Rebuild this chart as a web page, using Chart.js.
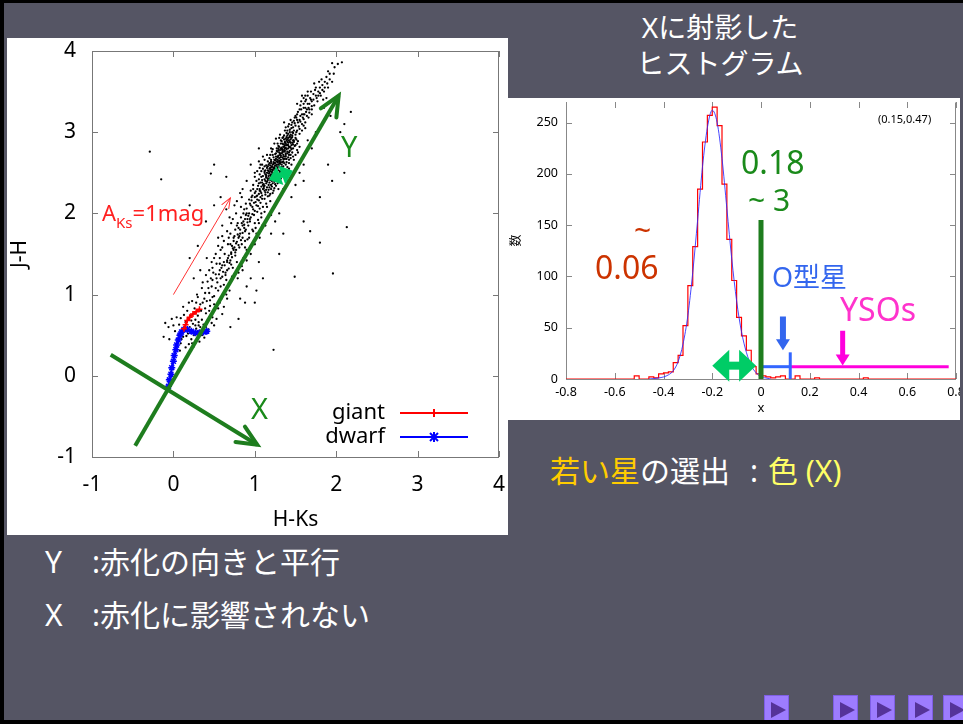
<!DOCTYPE html>
<html>
<head>
<meta charset="utf-8">
<script src="https://cdn.jsdelivr.net/npm/chart.js@4.4.0/dist/chart.umd.min.js"></script>
<style>
html, body { margin: 0; padding: 0; }
body {
    width: 963px; height: 724px; overflow: hidden; position: relative;
    background: #555564;
    font-family: "Noto Sans", "Noto Sans CJK JP", sans-serif;
}
.bar { position: absolute; background: #000; z-index: 5; }
.panel { position: absolute; background: #fff; overflow: hidden; }
.panel canvas { position: absolute; left: 0; top: 0; }
.t { position: absolute; white-space: nowrap; line-height: 1; }
.nav { position: absolute; top: 695px; width: 25px; height: 29px; background: #9d7cff; border: 1px solid #7f5fe6; box-sizing: border-box; }
.nav:after { content: ""; position: absolute; left: 6px; top: 6px; border-left: 15px solid #553399; border-top: 8px solid transparent; border-bottom: 8px solid transparent; }
</style>
</head>
<body>

<div class="bar" style="left:0;top:0;width:963px;height:3px"></div>
<div class="bar" style="left:0;top:0;width:4px;height:724px"></div>
<div class="bar" style="left:0;top:720px;width:963px;height:4px"></div>

<div class="panel" style="left:7px;top:38px;width:501px;height:497px">
    <canvas id="ccdChart" width="510" height="497"></canvas>
</div>
<div class="panel" style="left:508px;top:98px;width:452px;height:322px">
    <canvas id="histChart" width="470" height="322"></canvas>
</div>

<!-- slide text -->
<div class="t" style="left:720px;top:13px;font-size:28px;color:#fff;transform:translateX(-50%)">Xに射影した</div>
<div class="t" style="left:720px;top:49px;font-size:28px;color:#fff;transform:translateX(-50%)">ヒストグラム</div>

<div class="t" style="left:45px;top:547px;font-size:30px;color:#fff">Y</div>
<div class="t" style="left:92px;top:547px;font-size:30px;color:#fff">:赤化の向きと平行</div>
<div class="t" style="left:45px;top:600px;font-size:30px;color:#fff">X</div>
<div class="t" style="left:92px;top:600px;font-size:30px;color:#fff">:赤化に影響されない</div>

<div class="t" style="left:550px;top:456px;font-size:30px;color:#fff"><span style="color:#ffcc00">若い星</span>の選出</div>
<div class="t" style="left:750px;top:456px;font-size:30px;color:#fff">:</div>
<div class="t" style="left:768px;top:456px;font-size:30px;color:#ffff66">色 (X)</div>

<!-- colour-colour diagram labels -->
<div class="t" style="left:341px;top:131px;font-size:29px;color:#1a8a1a">Y</div>
<div class="t" style="left:251px;top:393px;font-size:29px;color:#1a8a1a">X</div>
<div class="t" style="left:102px;top:201px;font-size:22px;color:#ff2020">A<span style="font-size:15px;position:relative;top:7px">Ks</span>=1mag</div>

<!-- histogram labels -->
<div class="t" style="left:741px;top:146px;font-size:32px;color:#1a8a1a">0.18</div>
<div class="t" style="left:748px;top:185px;font-size:30px;color:#1a8a1a">~ 3</div>
<div class="t" style="left:634px;top:215px;font-size:30px;color:#cc3300">~</div>
<div class="t" style="left:595px;top:251px;font-size:32px;color:#cc3300">0.06</div>
<div class="t" style="left:772px;top:263px;font-size:27px;color:#3366ee">O型星</div>
<div class="t" style="left:840px;top:293px;font-size:32px;color:#ff33cc">YSOs</div>
<div class="t" style="left:878px;top:113px;font-size:11px;color:#000">(0.15,0.47)</div>

<div class="nav" style="left:764px"></div>
<div class="nav" style="left:833px"></div>
<div class="nav" style="left:870px"></div>
<div class="nav" style="left:908px"></div>
<div class="nav" style="left:943px"></div>

<script>
// ---- J-H vs H-Ks field stars [H-Ks, J-H] ----
const fieldStars = [
    [0.05,0.42],[0.12,0.48],[0.18,0.52],[0.22,0.45],[0.28,0.58],[0.31,0.62],[0.15,0.66],[0.09,0.71],[0.21,0.74],[0.35,0.69],
    [0.4,0.77],[0.26,0.83],[0.33,0.88],[0.45,0.86],[0.19,0.39],[0.02,0.55],[-0.06,0.6],[-0.12,0.48],[0.08,0.31],[0.25,0.36],
    [0.38,0.47],[0.5,0.62],[0.43,0.57],[0.14,0.58],[0.29,0.51],[0.36,0.56],[0.24,0.64],[0.17,0.8],[0.3,0.74],[0.48,0.72],
    [0.55,0.83],[0.07,0.63],[0.11,0.52],[0.2,0.6],[0.27,0.69],[0.34,0.8],[0.41,0.92],[-0.02,0.7],[0.6,0.76],[0.23,0.92],
    [0.1,0.45],[0.16,0.49],[0.2,0.55],[0.25,0.5],[0.3,0.55],[0.33,0.6],[0.27,0.62],[0.22,0.68],[0.18,0.71],[0.13,0.75],
    [0.26,0.77],[0.31,0.66],[0.37,0.63],[0.42,0.68],[0.46,0.75],[0.39,0.83],[0.44,0.8],[0.5,0.88],[0.36,0.9],[0.28,0.9],
    [0.06,0.5],[0.0,0.62],[0.04,0.72],[0.12,0.85],[0.19,0.9],[0.35,0.5],[0.4,0.6],[0.47,0.65],[0.53,0.7],[0.57,0.9],
    [0.15,0.35],[0.23,0.4],[0.32,0.42],[0.09,0.4],[-0.05,0.45],[-0.1,0.65],[0.62,0.85],[0.66,0.95],[0.3,0.97],[0.48,0.97],
    [0.38,0.95],[0.44,1.02],[0.5,0.98],[0.47,1.1],[0.55,1.05],[0.42,1.16],[0.58,1.2],[0.52,1.25],[0.62,1.12],[0.66,1.3],
    [0.6,1.36],[0.7,1.42],[0.57,1.45],[0.73,1.33],[0.35,1.08],[0.29,1.0],[0.48,1.33],[0.65,1.18],[0.78,1.4],[0.68,1.48],
    [0.54,1.15],[0.61,1.28],[0.45,0.93],[0.53,1.38],[0.72,1.22],[0.8,1.27],[0.84,1.35],[0.4,1.24],[0.63,1.5],[0.76,1.48],
    [0.69,1.05],[0.9,1.1],[0.95,1.2],[0.82,0.95],[0.25,1.2],[0.59,0.95],[0.5,1.45],[0.66,1.4],[0.74,1.55],[0.57,1.3],
    [0.46,1.2],[0.64,1.24],[0.71,1.37],[0.79,1.2],[0.86,1.45],[0.33,1.3],[0.2,1.45],[0.88,0.9],[1.02,1.05],[0.62,1.02],
    [0.65,1.0],[0.58,1.1],[0.52,1.08],[0.48,1.18],[0.53,1.2],[0.57,1.38],[0.49,1.27],[0.43,1.08],[0.39,1.02],[0.36,1.15],
    [0.72,1.6],[0.78,1.65],[0.81,1.58],[0.75,1.72],[0.85,1.7],[0.88,1.78],[0.8,1.82],[0.92,1.85],[0.86,1.9],[0.95,1.95],
    [0.9,2.0],[0.98,2.05],[1.02,2.1],[0.94,2.12],[1.05,2.16],[1.0,2.2],[0.83,1.95],[0.7,1.75],[0.67,1.62],[0.77,1.55],
    [0.91,1.68],[0.97,1.8],[1.04,1.92],[1.08,2.0],[0.87,2.05],[0.79,1.88],[0.73,1.93],[0.84,1.62],[0.93,1.75],[1.0,1.88],
    [1.1,2.08],[1.12,2.18],[0.96,2.16],[0.89,1.98],[0.82,1.75],[0.76,1.8],[0.68,1.7],[0.99,1.98],[1.06,2.06],[1.03,2.02],
    [0.94,1.9],[0.87,1.82],[0.8,1.7],[0.85,1.85],[0.91,1.93],[0.97,2.08],[1.01,2.14],[0.93,2.0],[0.88,1.66],[0.74,1.66],
    [1.07,2.2],[1.14,2.12],[0.95,1.6],[1.16,1.95],[0.6,1.85],[0.55,1.7],[1.25,1.9],[1.3,2.0],[0.65,2.05],[0.5,2.1],
    [1.2,1.75],[0.78,2.15],[0.84,2.2],[1.18,2.22],[0.9,1.55],[1.02,1.75],[0.71,1.5],[0.6,1.58],[1.09,1.85],[0.58,2.2],
    [0.6,1.22],[0.64,1.27],[0.68,1.32],[0.62,1.4],[0.67,1.45],[0.71,1.52],[0.75,1.58],[0.7,1.62],[0.74,1.7],[0.79,1.74],
    [0.82,1.8],[0.78,1.85],[0.84,1.88],[0.88,1.93],[0.92,1.97],[0.86,2.0],[0.9,2.06],[0.95,2.1],[0.99,2.13],[0.93,2.17],
    [0.56,1.25],[0.59,1.33],[0.63,1.36],[0.66,1.42],[0.69,1.39],[0.72,1.46],[0.76,1.52],[0.73,1.57],[0.77,1.63],[0.8,1.61],
    [0.83,1.67],[0.81,1.72],[0.85,1.76],[0.89,1.8],[0.87,1.86],[0.91,1.89],[0.94,1.93],[0.97,1.99],[1.0,2.03],[1.04,2.09],
    [1.07,2.13],[1.03,2.17],[0.96,2.2],[1.09,2.18],[0.89,2.12],[0.83,2.08],[0.77,2.0],[0.71,1.88],[0.66,1.78],[0.62,1.66],
    [0.58,1.55],[0.52,1.5],[0.47,1.4],[0.44,1.3],[0.41,1.45],[0.55,1.6],[0.6,1.72],[0.69,1.95],[0.75,2.1],[0.82,2.25],
    [0.93,1.7],[0.98,1.78],[1.01,1.82],[1.05,1.88],[1.08,1.95],[1.12,2.02],[1.15,2.08],[1.19,2.15],[0.95,1.5],[0.9,1.42],
    [0.85,1.3],[0.88,1.58],[1.0,1.62],[1.06,1.7],[1.13,1.85],[1.2,1.98],[1.24,2.08],[1.28,2.15],[1.35,2.3],[1.4,2.4],
    [1.03,2.22],[1.08,2.25],[1.12,2.28],[1.06,2.3],[1.15,2.32],[1.1,2.35],[1.18,2.38],[1.13,2.4],[1.04,2.34],[1.2,2.3],
    [1.22,2.42],[1.09,2.41],[1.16,2.26],[1.01,2.27],[1.25,2.36],[1.07,2.38],[1.14,2.44],[1.19,2.24],[1.11,2.31],[1.17,2.35],
    [1.05,2.42],[1.23,2.28],[1.28,2.4],[0.98,2.3],[1.21,2.45],
    [1.02,2.21],[1.05,2.24],[1.09,2.22],[1.13,2.26],[1.17,2.29],[1.21,2.33],[1.24,2.31],[1.0,2.25],[1.06,2.28],[1.1,2.3],
    [1.14,2.29],[1.18,2.32],[1.26,2.34],[1.08,2.33],[1.03,2.3],[1.12,2.34],[1.16,2.21],[1.22,2.25],[0.97,2.22],[1.29,2.3],
    [1.1,2.46],[1.15,2.5],[1.2,2.48],[1.25,2.52],[1.18,2.55],[1.12,2.58],[1.22,2.6],[1.28,2.56],[1.3,2.48],[1.14,2.47],
    [1.08,2.52],[1.26,2.44],[1.33,2.54],[1.17,2.6],[1.24,2.57],[1.21,2.51],[1.16,2.43],[1.29,2.6],[1.35,2.58],[1.06,2.56],
    [1.19,2.59],[1.27,2.49],[1.13,2.53],[1.23,2.46],[1.31,2.52],[1.37,2.5],[1.09,2.6],[1.2,2.54],
    [1.05,2.37],[1.09,2.38],[1.12,2.42],[1.15,2.39],[1.18,2.43],[1.21,2.4],[1.24,2.44],[1.27,2.42],[1.3,2.45],[1.08,2.45],
    [1.13,2.48],[1.17,2.49],[1.2,2.46],[1.23,2.5],[1.26,2.48],[1.32,2.43],[1.11,2.36],[1.28,2.37],[1.02,2.4],[1.34,2.47],
    [1.16,2.41],[1.19,2.47],[1.25,2.41],[1.06,2.48],
    [1.12,2.52],[1.16,2.53],[1.19,2.56],[1.22,2.54],[1.26,2.55],[1.29,2.53],[1.32,2.56],[1.35,2.55],[1.14,2.59],[1.18,2.62],
    [1.21,2.58],[1.24,2.62],[1.27,2.6],[1.31,2.61],[1.34,2.63],[1.38,2.6],[1.1,2.55],[1.4,2.57],[1.23,2.56],[1.28,2.63],
    [1.16,2.58],[1.36,2.52],[1.2,2.64],[1.42,2.62],
    [1.2,2.62],[1.25,2.65],[1.3,2.68],[1.35,2.64],[1.28,2.7],[1.22,2.72],[1.33,2.74],[1.38,2.7],[1.4,2.76],[1.27,2.77],
    [1.32,2.8],[1.24,2.66],[1.18,2.68],[1.36,2.78],[1.42,2.66],[1.3,2.62],[1.26,2.74],[1.34,2.69],[1.29,2.78],[1.21,2.76],
    [1.44,2.72],[1.39,2.63],[1.31,2.72],[1.23,2.61],[1.37,2.67],[1.45,2.79],[1.16,2.64],[1.27,2.64],[1.33,2.6],[1.41,2.8],
    [1.2,2.66],[1.23,2.69],[1.26,2.67],[1.29,2.71],[1.32,2.69],[1.35,2.67],[1.38,2.72],[1.41,2.69],[1.25,2.73],[1.28,2.76],
    [1.31,2.78],[1.34,2.75],[1.37,2.77],[1.4,2.74],[1.43,2.77],[1.46,2.75],[1.22,2.79],[1.3,2.65],[1.36,2.7],[1.33,2.79],
    [1.44,2.68],[1.27,2.8],[1.39,2.79],[1.19,2.72],
    [1.3,2.82],[1.35,2.85],[1.4,2.88],[1.45,2.84],[1.38,2.92],[1.32,2.9],[1.43,2.95],[1.48,2.9],[1.5,2.97],[1.36,2.96],
    [1.42,2.82],[1.28,2.86],[1.47,2.99],[1.34,2.93],[1.39,2.84],[1.52,2.86],[1.44,2.91],[1.31,2.97],[1.41,2.98],[1.37,2.88],
    [1.26,2.92],[1.49,2.83],[1.46,2.87],[1.33,2.81],
    [1.29,2.83],[1.32,2.86],[1.35,2.82],[1.38,2.86],[1.41,2.84],[1.44,2.87],[1.47,2.85],[1.33,2.89],[1.36,2.91],[1.39,2.94],
    [1.42,2.9],[1.45,2.93],[1.48,2.88],[1.51,2.91],[1.3,2.93],[1.37,2.84],[1.43,2.82],[1.5,2.84],[1.4,2.96],[1.46,2.96],
    [1.35,2.94],[1.53,2.89],
    [1.4,3.02],[1.45,3.05],[1.5,3.08],[1.42,3.1],[1.55,3.04],[1.48,3.14],[1.53,3.12],[1.38,3.06],[1.58,3.1],[1.46,3.0],
    [1.51,3.18],[1.6,3.16],[1.44,3.15],[1.56,3.2],[1.36,3.12],[1.62,3.05],
    [1.39,2.99],[1.43,3.03],[1.47,3.06],[1.51,3.0],[1.54,3.07],[1.49,3.11],[1.45,3.09],[1.41,3.07],[1.56,3.13],[1.52,3.15],
    [1.58,3.02],[1.37,3.02],[1.62,3.12],[1.46,3.12],[1.55,2.98],[1.6,3.08],
    [1.45,2.6],[1.48,2.66],[1.5,2.72],[1.52,2.78],[1.55,2.82],[1.42,2.55],[1.47,2.7],[1.53,2.75],
    [0.98,2.35],[1.0,2.45],[1.03,2.52],[1.07,2.6],[1.12,2.66],[1.15,2.72],[1.2,2.8],[1.24,2.86],[0.95,2.28],[1.05,2.64],
    [1.11,2.33],[1.14,2.37],[1.19,2.41],[1.24,2.39],[1.17,2.46],[1.22,2.49],[1.27,2.53],[1.19,2.52],[1.15,2.56],[1.25,2.59],
    [1.3,2.58],[1.23,2.63],[1.28,2.66],[1.32,2.66],[1.35,2.72],[1.3,2.75],[1.38,2.74],[1.34,2.77],[1.4,2.84],[1.36,2.82],
    [1.43,2.88],[1.39,2.9],[1.46,2.94],[1.41,2.93],[1.48,3.02],[1.43,3.0],[1.52,3.02],[1.07,2.27],[1.13,2.23],[1.2,2.35],
    [1.26,2.46],[1.12,2.5],[1.32,2.63],[1.26,2.7],[1.37,2.8],[1.34,2.86],[1.29,2.8],[1.42,2.72],[1.47,2.8],[1.5,2.93],
    [1.22,2.37],[1.25,2.43],[1.28,2.47],[1.31,2.5],[1.33,2.57],[1.36,2.62],[1.39,2.67],[1.42,2.75],[1.44,2.81],[1.47,2.9],
    [1.24,2.55],[1.27,2.58],[1.3,2.64],[1.32,2.71],[1.36,2.76],[1.38,2.81],[1.41,2.87],[1.44,2.97],[1.17,2.52],[1.21,2.57],
    [1.25,2.62],[1.28,2.69],[1.31,2.74],[1.34,2.79],[1.37,2.87],[1.4,2.91],[1.43,2.94],[1.14,2.45],[1.18,2.5],[1.22,2.53],
    [0.9,2.4],[0.95,2.6],[1.6,2.6],[1.7,2.8],[1.0,2.5],[1.55,2.5],[0.85,2.3],[1.65,2.9],[1.1,2.7],[1.75,3.0],
    [1.05,2.8],[1.6,2.4],[0.65,2.45],[0.5,2.6],[1.9,2.6],[1.95,2.4],[1.8,2.2],[2.1,2.5],[1.45,2.2],[1.5,2.35],
    [1.5,3.2],[1.53,3.25],[1.57,3.28],[1.6,3.35],[1.63,3.4],[1.56,3.33],[1.52,3.22],[1.59,3.18],[1.64,3.28],[1.67,3.35],
    [1.62,3.45],[1.57,3.38],[1.49,3.18],[1.55,3.15],[1.61,3.22],[1.66,3.3],[1.69,3.4],[1.72,3.47],[1.65,3.5],[1.6,3.42],
    [1.58,3.22],[1.63,3.25],[1.6,3.3],[1.67,3.28],[1.65,3.35],[1.7,3.32],[1.72,3.4],[1.68,3.42],[1.75,3.45],[1.78,3.5],
    [1.74,3.52],[1.8,3.55],[1.83,3.58],[1.79,3.62],[1.86,3.62],[1.88,3.68],[1.9,3.55],[1.92,3.72],[1.85,3.5],[1.55,3.28],
    [1.62,3.38],[1.77,3.38],[1.81,3.45],[1.7,3.22],[1.66,3.18],[1.95,3.62],[1.98,3.8],[2.02,3.84],[2.07,3.86],[1.95,3.85],
    [2.1,3.1],[2.05,3.0],[1.85,3.3],[1.52,3.35],[1.73,3.6],[1.88,3.42],[2.18,3.25],[1.58,3.45],[1.93,3.2],[1.69,3.5],
    [1.64,3.2],[1.67,3.24],[1.7,3.28],[1.73,3.33],[1.76,3.42],[1.8,3.48],[1.83,3.52],[1.86,3.55],[1.89,3.6],[1.92,3.65],
    [1.62,3.3],[1.7,3.38],[1.78,3.45],[1.84,3.4],[1.75,3.55],[1.9,3.75],[1.97,3.72],[1.65,3.45],[1.82,3.65],[1.6,3.22],
    [-0.29,2.76],[-0.15,2.42],[0.46,2.49],[1.96,1.26],[2.13,1.83],[1.23,0.32],[1.8,1.64],[1.68,1.78],[1.49,1.22],[1.0,0.9],
    [1.1,1.2],[0.3,1.6],[0.4,1.9],[1.3,1.5],[0.7,0.6],[0.8,0.7],[1.6,1.9],[0.2,2.1],[1.05,1.4],[1.35,1.75]
];

// intrinsic loci
const giantHK = [0.13, 0.15, 0.17, 0.20, 0.24, 0.28, 0.32];
const giantJH = [0.58, 0.63, 0.68, 0.72, 0.76, 0.79, 0.82];
const dwarfHK = [-0.06, -0.05, -0.03, -0.02, 0.00, 0.01, 0.03, 0.04, 0.06, 0.08, 0.10, 0.13, 0.17, 0.22, 0.27, 0.32, 0.37, 0.41];
const dwarfJH = [-0.13, -0.05, 0.02, 0.10, 0.18, 0.25, 0.32, 0.38, 0.44, 0.50, 0.54, 0.57, 0.57, 0.55, 0.53, 0.53, 0.54, 0.55];

// drawn guide arrows (start, end) in data units
const axisY = [[-0.47, -0.86], [2.03, 3.45]];
const axisX = [[-0.77, 0.26], [1.03, -0.85]];
const reddening = [[0.00, 1.00], [0.70, 2.19]];
const widthArrow = [[1.24, 2.44], [1.40, 2.50]];

const ccdTicks = [-1, 0, 1, 2, 3, 4];

// ---- projected histogram: left bin edges and counts (bin 0.02) ----
const histEdges = [-0.80, -0.52, -0.50, -0.46, -0.44, -0.42, -0.40, -0.38, -0.36, -0.34,
                   -0.32, -0.30, -0.28, -0.26, -0.24, -0.22, -0.20, -0.18, -0.16, -0.14,
                   -0.12, -0.10, -0.08, -0.06, -0.04, -0.02, 0.00, 0.02, 0.04, 0.06,
                   0.08, 0.10, 0.12, 0.14, 0.16, 0.22, 0.24, 0.42, 0.44, 0.80];
const histCounts = [0, 3, 0, 2, 1, 5, 6, 7, 16, 23,
                    52, 91, 129, 185, 231, 257, 265, 247, 190, 136,
                    96, 60, 42, 28, 12, 5, 3, 2, 1, 2,
                    3, 0, 0, 3, 0, 1, 0, 1, 0, 0];

// fitted gaussian as drawn (blue)
const fitX = [-0.46, -0.42, -0.40, -0.38, -0.36, -0.34, -0.32, -0.30, -0.28, -0.26, -0.24, -0.22, -0.20,
              -0.18, -0.16, -0.14, -0.12, -0.10, -0.08, -0.06, -0.04, -0.02, 0.00, 0.02, 0.04];
const fitY = [0, 1, 2, 4, 8, 17, 34, 62, 104, 155, 207, 245, 262,
              250, 215, 166, 117, 76, 46, 26, 13, 6, 2, 1, 0];

// annotation marks on the histogram
const cutLine = [[0, 0], [0, 155]];
const oStarRange = [[0, 12], [0.12, 12]];
const oStarEdge = [[0.12, 0], [0.12, 26]];
const ysoRange = [[0.12, 12], [0.77, 12]];
const oStarArrow = [[0.09, 61], [0.09, 33]];
const ysoArrow = [[0.335, 47], [0.335, 18]];
const sigmaArrow = [[-0.163, 13], [-0.057, 13]];

const histXTicks = [-0.8, -0.6, -0.4, -0.2, 0, 0.2, 0.4, 0.6, 0.8];
const histYTicks = [0, 50, 100, 150, 200, 250];

const GREEN = '#1e7d1e';
const toXY = pts => pts.map(([x, y]) => ({x: x, y: y}));
const zip = (xs, ys) => xs.map((x, i) => ({x: x, y: ys[i]}));

Chart.defaults.font.family = '"Noto Sans", sans-serif';
Chart.defaults.color = '#000';

// gnuplot style frame with inward ticks
const gnuFrame = {
    id: 'gnuFrame',
    beforeDatasetsDraw(chart, args, opts) {
        const ctx = chart.ctx;
        const a = chart.chartArea;
        const sx = chart.scales.x, sy = chart.scales.y;
        ctx.save();
        ctx.strokeStyle = opts.color;
        ctx.lineWidth = 1;
        ctx.beginPath();
        ctx.moveTo(a.left + 0.5, a.top + 0.5);
        ctx.lineTo(a.left + 0.5, a.bottom + 0.5);
        ctx.lineTo(a.right - 0.5, a.bottom + 0.5);
        ctx.lineTo(a.right - 0.5, a.top + 0.5);
        if (opts.topLine) ctx.lineTo(a.left + 0.5, a.top + 0.5);
        opts.xTicks.forEach(v => {
            const px = Math.round(sx.getPixelForValue(v)) + 0.5;
            ctx.moveTo(px, a.bottom); ctx.lineTo(px, a.bottom - opts.len);
            ctx.moveTo(px, a.top); ctx.lineTo(px, a.top + opts.len);
        });
        opts.yTicks.forEach(v => {
            const py = Math.round(sy.getPixelForValue(v)) + 0.5;
            ctx.moveTo(a.left, py); ctx.lineTo(a.left + opts.len, py);
            ctx.moveTo(a.right, py); ctx.lineTo(a.right - opts.len, py);
        });
        ctx.stroke();
        ctx.restore();
    }
};

function drawHead(ctx, from, to, h, color) {
    const ang = Math.atan2(to.y - from.y, to.x - from.x);
    ctx.save();
    ctx.translate(to.x, to.y);
    ctx.rotate(ang);
    ctx.strokeStyle = color;
    ctx.fillStyle = color;
    if (h.filled) {
        const fwd = h.fwd || 0;
        ctx.beginPath();
        ctx.moveTo(fwd, 0);
        ctx.lineTo(fwd - h.len, -h.half);
        ctx.lineTo(fwd - h.len, h.half);
        ctx.closePath();
        ctx.fill();
    } else {
        ctx.lineWidth = h.width;
        ctx.lineCap = 'round';
        ctx.beginPath();
        ctx.moveTo(-h.len, -h.half);
        ctx.lineTo(0, 0);
        ctx.lineTo(-h.len, h.half);
        ctx.stroke();
    }
    ctx.restore();
}

// arrow heads on datasets that carry a "head" setting
const arrowHeads = {
    id: 'arrowHeads',
    afterDatasetsDraw(chart) {
        const ctx = chart.ctx;
        chart.data.datasets.forEach((ds, i) => {
            if (!ds.head) return;
            const pts = chart.getDatasetMeta(i).data;
            const n = pts.length;
            drawHead(ctx, pts[n - 2], pts[n - 1], ds.head, ds.borderColor);
            if (ds.head.both) drawHead(ctx, pts[1], pts[0], ds.head, ds.borderColor);
        });
    }
};

// gnuplot style key inside the plot
const gnuKey = {
    id: 'gnuKey',
    afterDatasetsDraw(chart, args, opts) {
        const ctx = chart.ctx;
        ctx.save();
        ctx.font = opts.size + 'px "Noto Sans", sans-serif';
        ctx.textAlign = 'right';
        ctx.textBaseline = 'middle';
        opts.rows.forEach((r, k) => {
            const ds = chart.data.datasets.find(d => d.label === r);
            const y = opts.y + k * opts.gap;
            ctx.fillStyle = '#000';
            ctx.fillText(r, opts.x, y);
            ctx.strokeStyle = ds.borderColor;
            ctx.lineWidth = 2;
            ctx.beginPath();
            ctx.moveTo(opts.lineFrom, y);
            ctx.lineTo(opts.lineTo, y);
            ctx.stroke();
            const mid = (opts.lineFrom + opts.lineTo) / 2;
            ctx.beginPath();
            if (ds.pointStyle === 'cross') {
                ctx.moveTo(mid, y - 4); ctx.lineTo(mid, y + 4);
            } else {
                ctx.moveTo(mid - 4, y - 4); ctx.lineTo(mid + 4, y + 4);
                ctx.moveTo(mid + 4, y - 4); ctx.lineTo(mid - 4, y + 4);
                ctx.moveTo(mid, y - 5); ctx.lineTo(mid, y + 5);
            }
            ctx.stroke();
        });
        ctx.restore();
    }
};

// nudge layout padding until the plot frame sits where the slide has it
function fitArea(chart, want) {
    const p = Object.assign({}, chart.config.options.layout.padding);
    for (let k = 0; k < 3; k++) {
        const a = chart.chartArea;
        p.left += want.left - a.left;
        p.top += want.top - a.top;
        p.right += a.right - want.right;
        p.bottom += a.bottom - want.bottom;
        chart.options.layout.padding = Object.assign({}, p);
        chart.update();
    }
}

function arrowSet(pts, color, width, head) {
    return {
        data: toXY(pts), showLine: true, borderColor: color, backgroundColor: color,
        borderWidth: width, pointRadius: 0, borderCapStyle: 'butt', order: 0, head: head
    };
}

// label offsets go through tickLength (not ticks.padding, which also pads the chart area)
const ccdChart = new Chart(document.getElementById('ccdChart').getContext('2d'), {
    type: 'scatter',
    data: {
        datasets: [
            arrowSet(axisY, GREEN, 4, {len: 20, half: 9, width: 4}),
            arrowSet(axisX, GREEN, 4, {len: 20, half: 9, width: 4}),
            arrowSet(reddening, '#ff3333', 1, {len: 10, half: 4, width: 1}),
            arrowSet(widthArrow, '#00cc66', 6, {filled: true, both: true, len: 12, half: 10, fwd: 6}),
            {
                label: 'giant', data: zip(giantHK, giantJH), showLine: true,
                borderColor: '#ff0000', backgroundColor: '#ff0000', borderWidth: 2,
                pointStyle: 'cross', pointRadius: 3, pointBorderWidth: 1.5, order: 1
            },
            {
                label: 'dwarf', data: zip(dwarfHK, dwarfJH), showLine: true,
                borderColor: '#0000ff', backgroundColor: '#0000ff', borderWidth: 2,
                pointStyle: 'star', pointRadius: 3.5, pointBorderWidth: 1.5, order: 1
            },
            {
                label: 'stars', data: toXY(fieldStars),
                backgroundColor: '#000', borderWidth: 0, pointRadius: 1.15, order: 2
            }
        ]
    },
    options: {
        responsive: false,
        animation: false,
        layout: { padding: { top: 13, right: 18, left: 0, bottom: 0 } },
        plugins: {
            legend: { display: false },
            tooltip: { enabled: false },
            gnuFrame: { color: '#777', len: 6, topLine: true, xTicks: ccdTicks, yTicks: ccdTicks },
            gnuKey: { rows: ['giant', 'dwarf'], x: 378, y: 375, gap: 24, lineFrom: 393, lineTo: 461, size: 22 }
        },
        scales: {
            x: {
                type: 'linear', min: -1, max: 4,
                afterFit: s => { s.height = 78; },
                afterBuildTicks: s => { s.ticks = ccdTicks.map(v => ({value: v})); },
                grid: { display: false, drawTicks: true, tickLength: 15 },
                border: { display: false },
                ticks: { font: { size: 21 }, padding: 0, color: '#000' },
                title: { display: true, text: 'H-Ks', font: { size: 21 }, color: '#000', padding: { top: 4, bottom: 2 } }
            },
            y: {
                type: 'linear', min: -1, max: 4,
                afterFit: s => { s.width = 85; },
                afterBuildTicks: s => { s.ticks = ccdTicks.map(v => ({value: v})); },
                grid: { display: false, drawTicks: true, tickLength: 16 },
                border: { display: false },
                ticks: { font: { size: 21, lineHeight: 0.5 }, padding: 0, color: '#000' },
                title: { display: true, text: 'J-H', font: { size: 21 }, color: '#000', padding: { top: 0, bottom: 0 } }
            }
        }
    },
    plugins: [gnuFrame, arrowHeads, gnuKey]
});
fitArea(ccdChart, { left: 85, top: 13, right: 492, bottom: 419 });

function markSet(pts, color, width, head) {
    return {
        data: toXY(pts), borderColor: color, backgroundColor: color, borderWidth: width,
        pointRadius: 0, borderCapStyle: 'butt', fill: false, order: 0, head: head
    };
}

const histChart = new Chart(document.getElementById('histChart').getContext('2d'), {
    type: 'line',
    data: {
        datasets: [
            markSet(cutLine, GREEN, 5),
            markSet(oStarRange, '#3366ff', 3),
            markSet(oStarEdge, '#3366ff', 3),
            markSet(ysoRange, '#ff00dd', 3),
            markSet(oStarArrow, '#3366ee', 6, {filled: true, len: 11, half: 7, fwd: 5}),
            markSet(ysoArrow, '#ff00dd', 5, {filled: true, len: 11, half: 7, fwd: 5}),
            markSet(sigmaArrow, '#00cc66', 8, {filled: true, both: true, len: 17, half: 16, fwd: 9}),
            {
                label: 'fit', data: zip(fitX, fitY), borderColor: 'rgba(40,40,255,0.85)',
                borderWidth: 1, pointRadius: 0, cubicInterpolationMode: 'monotone', order: 1
            },
            {
                label: 'count', data: zip(histEdges, histCounts), borderColor: '#ff0000',
                borderWidth: 1.2, pointRadius: 0, stepped: true, order: 2
            }
        ]
    },
    options: {
        responsive: false,
        animation: false,
        layout: { padding: { top: 0, right: 22, left: 0, bottom: 0 } },
        plugins: {
            legend: { display: false },
            tooltip: { enabled: false },
            gnuFrame: { color: '#888', len: 6, topLine: false, xTicks: histXTicks, yTicks: histYTicks }
        },
        scales: {
            x: {
                type: 'linear', min: -0.8, max: 0.8,
                afterFit: s => { s.height = 41; },
                afterBuildTicks: s => { s.ticks = histXTicks.map(v => ({value: v})); },
                grid: { display: false, drawTicks: true, tickLength: 6 },
                border: { display: false },
                ticks: { font: { size: 12.5 }, padding: 0, color: '#000',
                         callback: v => (Math.abs(v) < 1e-9 ? '0' : v.toFixed(1)) },
                title: { display: true, text: 'x', font: { size: 13 }, color: '#000', padding: { top: 2, bottom: 4 } }
            },
            y: {
                type: 'linear', min: 0, max: 270,
                afterFit: s => { s.width = 58; },
                afterBuildTicks: s => { s.ticks = histYTicks.map(v => ({value: v})); },
                grid: { display: false, drawTicks: true, tickLength: 8 },
                border: { display: false },
                ticks: { font: { size: 12.5, lineHeight: 0.02 }, padding: 0, color: '#000' },
                title: { display: true, text: '数', font: { size: 12, family: '"Noto Sans CJK JP", sans-serif' }, color: '#000', padding: { top: 0, bottom: 0 } }
            }
        }
    },
    plugins: [gnuFrame, arrowHeads]
});
fitArea(histChart, { left: 58, top: 0, right: 448, bottom: 281 });
</script>
</body>
</html>
